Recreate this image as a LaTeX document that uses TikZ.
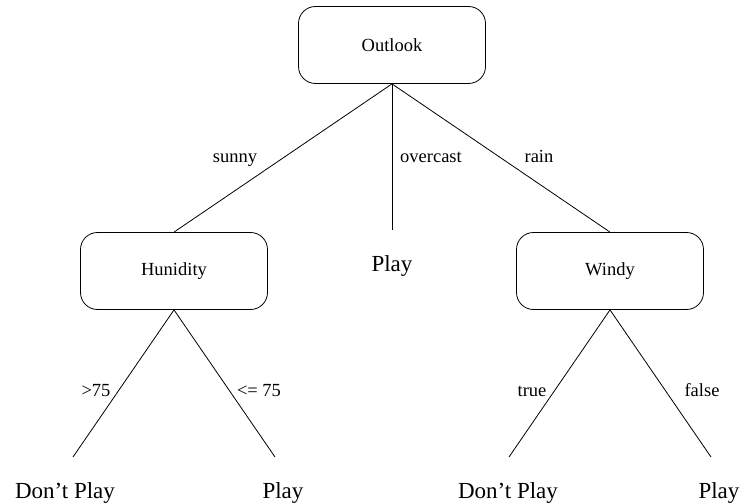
\documentclass[tikz,border=0pt]{standalone}
\usepackage{fontspec}
\setmainfont{Liberation Serif}
\begin{document}
\begin{tikzpicture}[x=1pt, y=-1pt,
  line width=0.8pt,
  testbox/.style={draw, rounded corners=17pt, minimum width=187pt, minimum height=77pt,
    inner sep=0pt, font=\fontsize{18.5}{22}\selectfont},
  edgelabel/.style={anchor=base, inner sep=0pt, font=\fontsize{18.5}{22}\selectfont},
  leaf/.style={anchor=base, inner sep=0pt, font=\fontsize{23}{27}\selectfont}]
  \useasboundingbox (0,0) rectangle (740,503);

  % decision nodes
  \node[testbox] (outlook) at (392,45) {Outlook};
  \node[testbox] (humid)   at (174,271) {Hunidity};
  \node[testbox] (windy)   at (610,271) {Windy};

  % free ends of the branches
  \coordinate (ovEnd)  at (392,230);
  \coordinate (hlEnd)  at (73,457);
  \coordinate (hrEnd)  at (275,457);
  \coordinate (wlEnd)  at (509,457);
  \coordinate (wrEnd)  at (711,457);

  % branches
  \draw (outlook.south) -- (humid.north);
  \draw (outlook.south) -- (ovEnd);
  \draw (outlook.south) -- (windy.north);
  \draw (humid.south) -- (hlEnd);
  \draw (humid.south) -- (hrEnd);
  \draw (windy.south) -- (wlEnd);
  \draw (windy.south) -- (wrEnd);

  % branch labels
  \node[edgelabel] (lsunny) at (235,162) {sunny};
  \node[edgelabel] (lover)  at (431,162) {overcast};
  \node[edgelabel] (lrain)  at (539,162) {rain};
  \node[edgelabel] (lgt)    at (96,396)  {>75};
  \node[edgelabel] (lle)    at (259,396) {<= 75};
  \node[edgelabel] (ltrue)  at (532,396) {true};
  \node[edgelabel] (lfalse) at (702,396) {false};

  % leaves
  \node[leaf] (play0) at (392,271) {Play};
  \node[leaf] (dp1)   at (65,498)  {Don’t Play};
  \node[leaf] (play1) at (283,498) {Play};
  \node[leaf] (dp2)   at (508,498) {Don’t Play};
  \node[leaf] (play2) at (719,498) {Play};
\end{tikzpicture}
\end{document}
